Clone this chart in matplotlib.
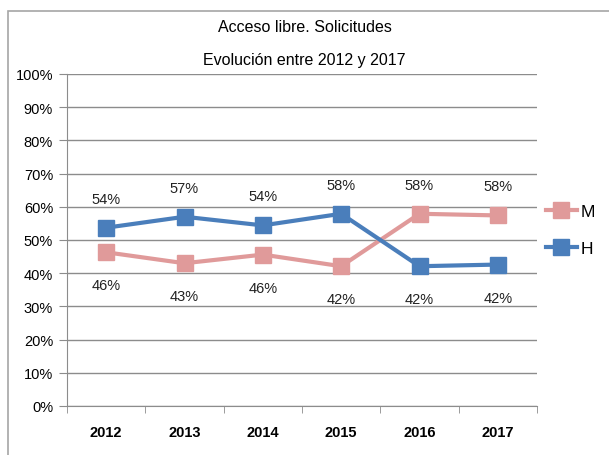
import numpy as np
import matplotlib.pyplot as plt
from matplotlib.patches import Rectangle
from matplotlib.ticker import FixedLocator, PercentFormatter

plt.rcParams['font.family'] = ['Liberation Sans', 'DejaVu Sans']

years = ['2012', '2013', '2014', '2015', '2016', '2017']
mujeres = [46.3, 43.0, 45.6, 42.1, 57.9, 57.4]
hombres = [53.7, 57.0, 54.4, 57.9, 42.1, 42.6]
labels_m = ['46%', '43%', '46%', '42%', '58%', '58%']
labels_h = ['54%', '57%', '54%', '58%', '42%', '42%']

col_m = '#E09A9A'
col_h = '#4A7EBB'
grid_col = '#8C8C8C'

fig = plt.figure(figsize=(6.09, 4.56), dpi=100)
# chart frame, runs off the right and bottom edges like the source image
fig.patches.append(Rectangle((8 / 609, -0.1), 1.2, 1.1 - 12 / 456, transform=fig.transFigure,
                             fill=False, edgecolor='#A6A6A6', linewidth=1.2))

ax = fig.add_axes([67 / 609, 1 - 407 / 456, 470 / 609, 332 / 456])
x = np.arange(len(years))

ax.plot(x, mujeres, color=col_m, lw=3, marker='s', ms=11, label='M', zorder=3)
ax.plot(x, hombres, color=col_h, lw=3, marker='s', ms=11, label='H', zorder=3)

# labels: upper series label above, lower series label below
for i in range(len(years)):
    if hombres[i] > mujeres[i]:
        up, upl, dn, dnl = hombres[i], labels_h[i], mujeres[i], labels_m[i]
    else:
        up, upl, dn, dnl = mujeres[i], labels_m[i], hombres[i], labels_h[i]
    ax.annotate(upl, (x[i], up), xytext=(0, 29), textcoords='offset pixels',
                ha='center', va='center', fontsize=10.5, color='#222222')
    ax.annotate(dnl, (x[i], dn), xytext=(0, -33), textcoords='offset pixels',
                ha='center', va='center', fontsize=10.5, color='#222222')

ax.set_xlim(-0.5, len(years) - 0.5)
ax.set_ylim(0, 100)
ax.yaxis.set_major_locator(FixedLocator(np.arange(0, 101, 10)))
ax.yaxis.set_major_formatter(PercentFormatter(decimals=0))
ax.set_xticks(x)
ax.set_xticklabels(years, fontweight='bold', fontsize=10.5)
ax.xaxis.set_minor_locator(FixedLocator(np.arange(-0.5, len(years), 1)))
ax.tick_params(axis='x', which='major', length=0, pad=14)
ax.tick_params(axis='x', which='minor', length=5, color=grid_col, direction='out')
ax.tick_params(axis='y', length=6, color=grid_col, labelsize=10.5, pad=4)

ax.grid(axis='y', color=grid_col, lw=1)
ax.set_axisbelow(True)
for s in ['top', 'right']:
    ax.spines[s].set_visible(False)
for s in ['left', 'bottom']:
    ax.spines[s].set_color(grid_col)

fig.text(0.5, 1 - 28 / 456, 'Acceso libre. Solicitudes', ha='center', va='center', fontsize=11.5)
fig.text(0.5, 1 - 60 / 456, 'Evolución entre 2012 y 2017', ha='center', va='center', fontsize=11.5)

leg = ax.legend(loc='center left', bbox_to_anchor=(1.0, 0.53), frameon=False,
                fontsize=12.5, handlelength=1.8, handletextpad=0.2, labelspacing=1.3,
                borderaxespad=0.1)

fig.savefig('out.png', dpi=100)
